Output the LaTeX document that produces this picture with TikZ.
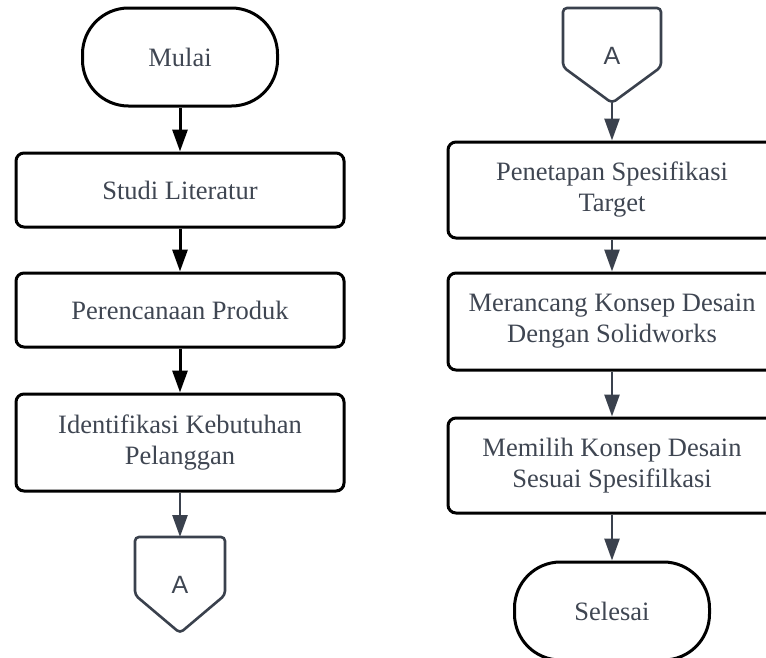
\documentclass[tikz,border=0pt]{standalone}
\usepackage{fontspec}
\setmainfont{Liberation Serif}
\newfontfamily\sansA{Liberation Sans}
\usetikzlibrary{arrows.meta,calc}
\definecolor{txt}{HTML}{3F4652}
\definecolor{slate}{HTML}{3A414D}
\begin{document}
\begin{tikzpicture}[x=1pt,y=-1pt,
  proc/.style={draw=black,line width=3pt,rounded corners=8pt,minimum width=328pt,text=txt,align=center,font=\fontsize{26.5}{31}\selectfont,inner sep=0pt},
  term/.style={draw=black,line width=3pt,rounded corners=46pt,minimum width=195pt,minimum height=98pt,text=txt,font=\fontsize{26.5}{31}\selectfont,inner sep=0pt},
  offp/.style={draw=none,inner sep=0pt,outer sep=0pt,text=txt,font=\sansA\fontsize{25}{28}\selectfont},
  blk/.style={line width=3pt,draw=black,-{Triangle[length=22pt,width=15pt]}},
  sl/.style={line width=2.6pt,draw=slate,-{Triangle[length=22pt,width=15pt]}},
  pent/.style={draw=slate,line width=2.6pt,rounded corners=4pt}]
\useasboundingbox (0,0) rectangle (766,657);
\clip (0,0) rectangle (766,657);
% left column
\node[term] (mulai) at (180,57) {Mulai};
\node[proc,minimum height=74pt] (studi) at (180,190) {Studi Literatur};
\node[proc,minimum height=74pt] (renc) at (180,310) {Perencanaan Produk};
\node[proc,minimum height=97pt] (ident) at (180,442.5) {Identifikasi Kebutuhan\\Pelanggan};
\node[offp,minimum width=90pt,minimum height=96pt] (conA) at (180,585) {A};
\draw[pent] (conA.north west) -- (conA.north east) -- ($(conA.north east)+(0,58)$) -- (conA.south) -- ($(conA.north west)+(0,58)$) -- cycle;
\draw[blk] (mulai) -- (studi);
\draw[blk] (studi) -- (renc);
\draw[blk] (renc) -- (ident);
\draw[sl] (ident) -- (conA.north);
% right column
\node[offp,minimum width=98pt,minimum height=95pt] (conB) at (612,55.5) {A};
\draw[pent] (conB.north west) -- (conB.north east) -- ($(conB.north east)+(0,59)$) -- (conB.south) -- ($(conB.north west)+(0,59)$) -- cycle;
\node[proc,minimum height=96pt] (penet) at (612,190) {Penetapan Spesifikasi\\Target};
\node[proc,minimum height=97pt] (meran) at (612,321.5) {Merancang Konsep Desain\\Dengan Solidworks};
\node[proc,minimum height=95pt] (memil) at (612,465.5) {Memilih Konsep Desain\\Sesuai Spesifilkasi};
\node[term] (selesai) at (612,611) {Selesai};
\draw[sl] (conB.south) -- (penet);
\draw[sl] (penet) -- (meran);
\draw[sl] (meran) -- (memil);
\draw[sl] (memil) -- (selesai);
\end{tikzpicture}
\end{document}
